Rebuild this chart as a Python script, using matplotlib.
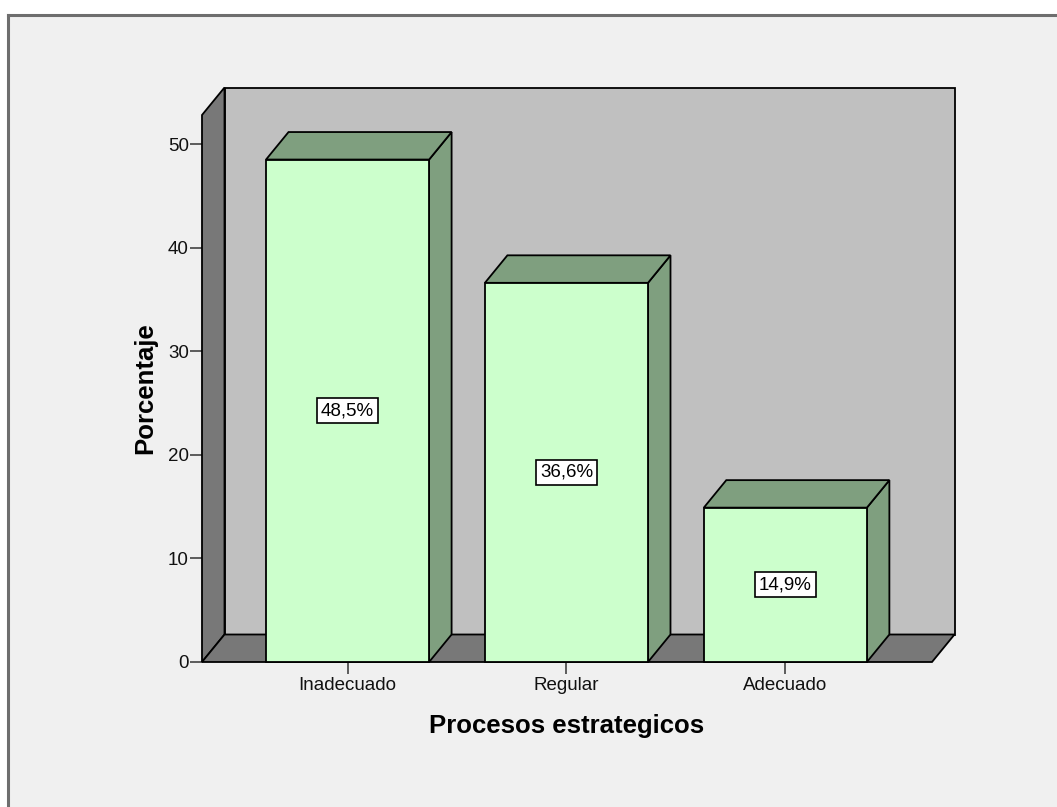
import matplotlib
matplotlib.use("Agg")
import matplotlib.pyplot as plt
from matplotlib.patches import Polygon, Rectangle
from matplotlib.lines import Line2D

# Data
categories = ["Inadecuado", "Regular", "Adecuado"]
percentages = [48.5, 36.6, 14.9]
value_labels = ["48,5%", "36,6%", "14,9%"]
y_ticks = [0, 10, 20, 30, 40, 50]

# Styling
plt.rcParams["font.family"] = ["Liberation Sans", "DejaVu Sans"]
W, H, DPI = 1057, 807, 100
FRONT = "#ccffcc"
SHADE = "#7f9f7f"
BACK_WALL = "#c0c0c0"
SIDE_WALL = "#787878"
PANEL_BG = "#f0f0f0"
EDGE = "black"
LW = 1.3

fig = plt.figure(figsize=(W / DPI, H / DPI), dpi=DPI, facecolor="white")

# Chart panel with a frame on its top and left sides (drawn beneath the axes)
fig.patches.append(Rectangle((8 / W, 0), 1, (H - 14.5) / H, transform=fig.transFigure,
                             facecolor=PANEL_BG, edgecolor="none", zorder=-2))
fig.lines.append(Line2D([8 / W, 1], [(H - 14.5) / H] * 2, transform=fig.transFigure,
                        color="#6e6e6e", lw=2.2, zorder=-1))
fig.lines.append(Line2D([8 / W] * 2, [0, (H - 14.5) / H], transform=fig.transFigure,
                        color="#6e6e6e", lw=2.2, zorder=-1))

ax_left, ax_right = 202, 932
ax_bottom, ax_top = 662, 115
ax = fig.add_axes([ax_left / W, (H - ax_bottom) / H,
                   (ax_right - ax_left) / W, (ax_bottom - ax_top) / H])
ax.set_facecolor("none")

n = len(categories)
x = list(range(n))
x0, x1 = -0.665, n - 1 + 0.67
y0, y1 = 0, 52.8
ax.set_xlim(x0, x1)
ax.set_ylim(y0, y1)

# Depth offset of the 3D extrusion, converted from pixels to data units
depth_px_x, depth_px_y = 22.5, 27.5
dx = depth_px_x * (x1 - x0) / (ax_right - ax_left)
dy = depth_px_y * (y1 - y0) / (ax_bottom - ax_top)


def face(pts, color, z):
    ax.add_patch(Polygon(pts, closed=True, facecolor=color, edgecolor=EDGE,
                         lw=LW, joinstyle="miter", clip_on=False, zorder=z))


# Back wall, side wall and floor
face([(x0 + dx, dy), (x1 + dx, dy), (x1 + dx, y1 + dy), (x0 + dx, y1 + dy)], BACK_WALL, 1)
face([(x0, 0), (x0 + dx, dy), (x0 + dx, y1 + dy), (x0, y1)], SIDE_WALL, 2)
face([(x0, 0), (x1, 0), (x1 + dx, dy), (x0 + dx, dy)], SIDE_WALL, 2)

# 3D bars
bw = 0.745
for xi, v, lab in zip(x, percentages, value_labels):
    l, r = xi - bw / 2, xi + bw / 2
    face([(r, 0), (r + dx, dy), (r + dx, v + dy), (r, v)], SHADE, 3)
    face([(l, v), (r, v), (r + dx, v + dy), (l + dx, v + dy)], SHADE, 3)
    face([(l, 0), (r, 0), (r, v), (l, v)], FRONT, 4)
    ax.text(xi, v / 2, lab, ha="center", va="center", fontsize=13.5, zorder=5,
            bbox=dict(boxstyle="square,pad=0.22", facecolor="white",
                      edgecolor=EDGE, lw=1.2))

# Axes, ticks and labels
for s in ax.spines.values():
    s.set_visible(False)
ax.set_xticks(x)
ax.set_xticklabels(categories)
ax.set_yticks(y_ticks)
ax.tick_params(axis="both", direction="out", length=8.5, width=1.1,
               color="#333333", labelsize=13.5, labelcolor="#111111")
ax.tick_params(axis="x", pad=2)
ax.tick_params(axis="y", pad=1)

ax.set_xlabel("Procesos estrategicos", fontsize=18.5, fontweight="bold")
ax.set_ylabel("Porcentaje", fontsize=18.5, fontweight="bold")
ax.xaxis.set_label_coords(0.5, (ax_bottom - 714) / (ax_bottom - ax_top))
ax.yaxis.set_label_coords((157 - ax_left) / (ax_right - ax_left), 0.5)

fig.savefig("out.png", dpi=DPI, facecolor=fig.get_facecolor())
